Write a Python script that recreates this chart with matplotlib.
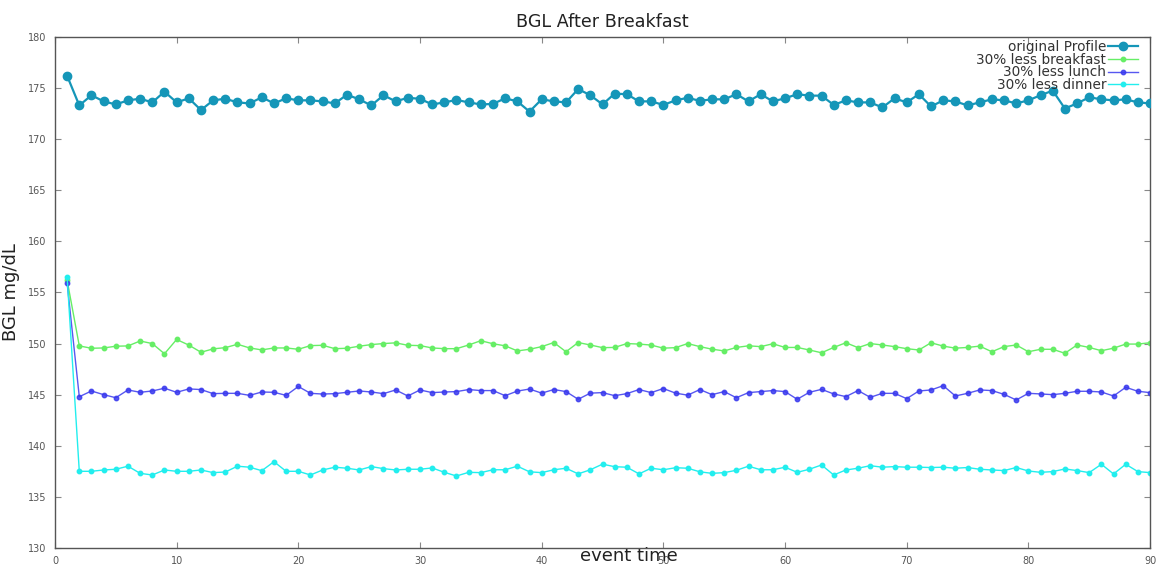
import matplotlib
matplotlib.use("Agg")
import matplotlib.pyplot as plt
import numpy as np

event_time = list(range(1, 91))

original_profile = [
    176.2, 173.3, 174.3, 173.7, 173.4, 173.8, 173.96, 173.6, 174.65, 173.6,
    174.0, 172.85, 173.8, 173.96, 173.6, 173.5, 174.1, 173.5, 174.0, 173.8,
    173.8, 173.7, 173.5, 174.35, 173.9, 173.3, 174.3, 173.7, 174.05, 173.95,
    173.4, 173.6, 173.84, 173.6, 173.4, 173.45, 174.0, 173.7, 172.7, 173.9,
    173.7, 173.6, 174.9, 174.3, 173.4, 174.46, 174.4, 173.7, 173.7, 173.35,
    173.8, 174.05, 173.75, 173.9, 173.9, 174.4, 173.7, 174.4, 173.7, 174.0,
    174.4, 174.26, 174.26, 173.35, 173.8, 173.6, 173.6, 173.1, 174.0, 173.6,
    174.4, 173.2, 173.8, 173.7, 173.3, 173.6, 173.9, 173.8, 173.5, 173.8,
    174.3, 174.75, 173.0, 173.5, 174.1, 173.9, 173.8, 173.9, 173.6, 173.5,
]

less_breakfast = [
    156.2, 149.77, 149.54, 149.57, 149.74, 149.77, 150.25, 150.0, 149.0, 150.4,
    149.85, 149.15, 149.48, 149.6, 149.93, 149.57, 149.38, 149.57, 149.57, 149.44,
    149.8, 149.83, 149.5, 149.54, 149.74, 149.9, 150.0, 150.07, 149.83, 149.8,
    149.57, 149.5, 149.5, 149.86, 150.28, 149.98, 149.78, 149.28, 149.44, 149.7,
    150.1, 149.2, 150.1, 149.86, 149.6, 149.62, 150.0, 149.95, 149.85, 149.55,
    149.6, 150.0, 149.7, 149.45, 149.28, 149.62, 149.78, 149.7, 149.98, 149.62,
    149.62, 149.37, 149.1, 149.62, 150.08, 149.6, 150.0, 149.86, 149.7, 149.5,
    149.37, 150.08, 149.75, 149.55, 149.62, 149.75, 149.2, 149.7, 149.86, 149.2,
    149.44, 149.44, 149.05, 149.86, 149.62, 149.3, 149.55, 149.95, 149.95, 150.08,
]

less_lunch = [
    155.9, 144.8, 145.36, 145.0, 144.7, 145.46, 145.23, 145.36, 145.63, 145.23,
    145.56, 145.5, 145.1, 145.13, 145.13, 144.93, 145.26, 145.23, 144.93, 145.8,
    145.13, 145.06, 145.1, 145.23, 145.36, 145.26, 145.1, 145.46, 144.87, 145.46,
    145.2, 145.26, 145.3, 145.5, 145.4, 145.4, 144.9, 145.35, 145.55, 145.15,
    145.5, 145.3, 144.55, 145.15, 145.2, 144.9, 145.1, 145.5, 145.2, 145.6,
    145.15, 144.95, 145.5, 145.0, 145.3, 144.7, 145.2, 145.3, 145.4, 145.3,
    144.55, 145.23, 145.52, 145.07, 144.81, 145.4, 144.74, 145.13, 145.13, 144.61,
    145.36, 145.46, 145.88, 144.87, 145.13, 145.46, 145.4, 145.03, 144.48, 145.13,
    145.07, 145.0, 145.13, 145.33, 145.33, 145.26, 144.87, 145.72, 145.33, 145.2,
]

less_dinner = [
    156.5, 137.5, 137.5, 137.63, 137.7, 138.0, 137.3, 137.14, 137.63, 137.5,
    137.5, 137.63, 137.37, 137.43, 138.0, 137.9, 137.56, 138.44, 137.5, 137.5,
    137.14, 137.63, 137.9, 137.8, 137.63, 137.96, 137.76, 137.63, 137.7, 137.7,
    137.83, 137.4, 137.04, 137.4, 137.37, 137.65, 137.65, 138.0, 137.45, 137.37,
    137.65, 137.8, 137.25, 137.65, 138.2, 137.95, 137.9, 137.25, 137.8, 137.65,
    137.85, 137.8, 137.45, 137.3, 137.37, 137.6, 138.0, 137.65, 137.65, 137.9,
    137.4, 137.7, 138.12, 137.14, 137.63, 137.8, 138.05, 137.9, 137.96, 137.9,
    137.9, 137.87, 137.9, 137.8, 137.87, 137.7, 137.63, 137.57, 137.87, 137.53,
    137.4, 137.47, 137.73, 137.57, 137.37, 138.19, 137.24, 138.19, 137.47, 137.37,
]

series_labels = ["original Profile", "30% less breakfast", "30% less lunch", "30% less dinner"]
x_ticks = [0, 10, 20, 30, 40, 50, 60, 70, 80, 90]
y_ticks = [130, 135, 140, 145, 150, 155, 160, 165, 170, 175, 180]

fig = plt.figure(figsize=(11.57, 5.69), dpi=100)
ax = fig.add_axes([0.0475, 0.037, 0.9465, 0.898])

ax.plot(event_time, original_profile, color="#1596b8", lw=1.6, marker="o", ms=6,
        label=series_labels[0], zorder=5)
ax.plot(event_time, less_breakfast, color="#66ee66", lw=1.0, marker="o", ms=3.2,
        label=series_labels[1])
ax.plot(event_time, less_lunch, color="#3a3aee", lw=1.0, marker="o", ms=3.2,
        label=series_labels[2], alpha=0.85)
ax.plot(event_time, less_dinner, color="#22eeee", lw=1.0, marker="o", ms=3.2,
        label=series_labels[3])

ax.set_xlim(0, 90)
ax.set_ylim(130, 180)
ax.set_xticks(x_ticks)
ax.set_yticks(y_ticks)
ax.tick_params(direction="in", top=True, right=True, length=4, width=0.8,
               colors="#888888", labelsize=7, labelcolor="#555555", pad=6)
for s in ax.spines.values():
    s.set_color("#555555")
    s.set_linewidth(1.0)

ax.set_title("BGL After Breakfast", fontsize=12.6, color="#222222", pad=7)
ax.set_ylabel("BGL mg/dL", fontsize=13, color="#222222", labelpad=6)
ax.set_xlabel("event time", fontsize=13, color="#222222")
ax.xaxis.set_label_coords(0.524, 0.001)

leg = ax.legend(loc="upper right", frameon=False, markerfirst=False, fontsize=9.8,
                labelspacing=-0.1, handlelength=2.2, handletextpad=0.15,
                borderaxespad=0.0, borderpad=0.0, bbox_to_anchor=(0.989, 0.994))
for t in leg.get_texts():
    t.set_color("#333333")

fig.savefig("out.png", dpi=100)
